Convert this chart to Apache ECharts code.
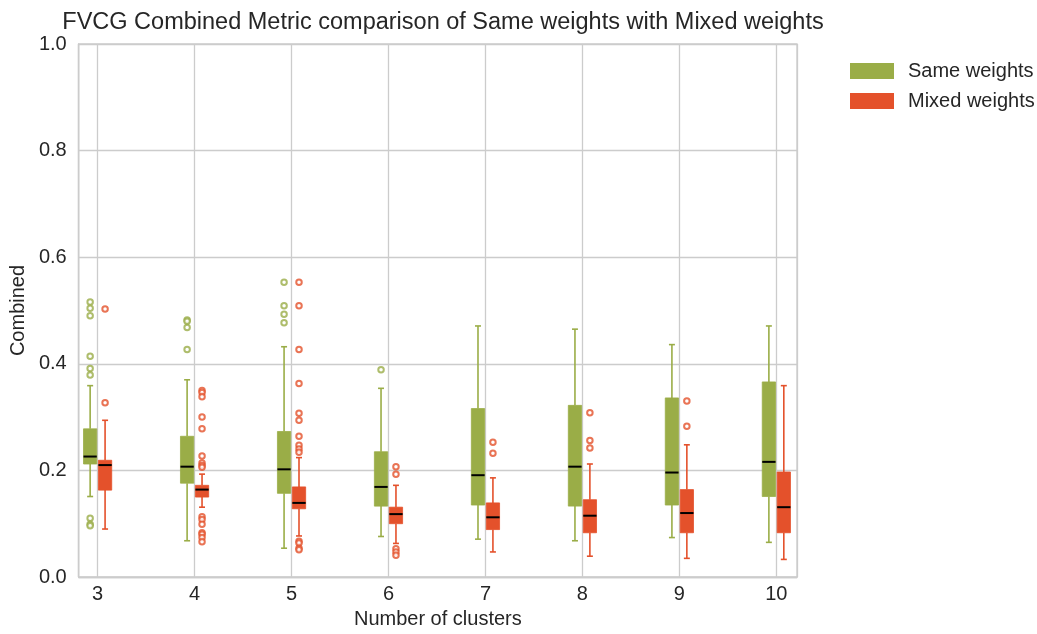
<!DOCTYPE html>
<html>
<head>
<meta charset="utf-8">
<script src="https://cdn.jsdelivr.net/npm/echarts@6/dist/echarts.min.js"></script>
<style>html,body{margin:0;padding:0;background:#fff}#c{width:1037px;height:634px}</style>
</head>
<body>
<div id="c"></div>
<script>
// ---- data ----
var categories = [3, 4, 5, 6, 7, 8, 9, 10];
var seriesNames = ['Same weights', 'Mixed weights'];
// [lower whisker, Q1, median, Q3, upper whisker]
var sameStats = [
  [0.151, 0.212, 0.226, 0.278, 0.359],
  [0.068, 0.176, 0.207, 0.264, 0.370],
  [0.054, 0.157, 0.202, 0.273, 0.432],
  [0.076, 0.133, 0.169, 0.235, 0.354],
  [0.071, 0.135, 0.191, 0.316, 0.471],
  [0.068, 0.133, 0.207, 0.322, 0.465],
  [0.074, 0.135, 0.196, 0.336, 0.436],
  [0.065, 0.151, 0.216, 0.366, 0.471]
];
var mixedStats = [
  [0.090, 0.163, 0.210, 0.219, 0.294],
  [0.131, 0.150, 0.164, 0.172, 0.193],
  [0.077, 0.128, 0.139, 0.169, 0.224],
  [0.063, 0.100, 0.118, 0.131, 0.172],
  [0.047, 0.089, 0.112, 0.139, 0.186],
  [0.039, 0.083, 0.115, 0.145, 0.212],
  [0.035, 0.083, 0.120, 0.164, 0.248],
  [0.033, 0.083, 0.131, 0.197, 0.359]
];
var sameOutliers = [
  [0.516, 0.504, 0.490, 0.414, 0.391, 0.379, 0.110, 0.099, 0.096],
  [0.482, 0.480, 0.468, 0.427],
  [0.553, 0.509, 0.493, 0.477],
  [0.389],
  [],
  [],
  [],
  []
];
var mixedOutliers = [
  [0.503, 0.327],
  [0.350, 0.346, 0.338, 0.300, 0.278, 0.227, 0.214, 0.209, 0.206, 0.113, 0.108, 0.099, 0.083, 0.080, 0.074, 0.066],
  [0.553, 0.509, 0.427, 0.363, 0.307, 0.294, 0.264, 0.247, 0.240, 0.234, 0.067, 0.064, 0.054, 0.051],
  [0.207, 0.193, 0.053, 0.047, 0.041],
  [0.253, 0.232],
  [0.308, 0.256, 0.242],
  [0.330, 0.283],
  []
];
var yTicks = [0, 0.2, 0.4, 0.6, 0.8, 1.0];

// ---- styling / layout ----
var colors = ['#9aad47', '#e4512b'];
var offsets = [-0.077, 0.077];
var boxW = 0.137;
var textColor = '#262626';
var fontFamily = 'Liberation Sans, Arial, sans-serif';

function boxData(stats, off) {
  return stats.map(function (s, i) { return [categories[i] + off].concat(s); });
}
function outlierData(outs, off) {
  var d = [];
  outs.forEach(function (arr, i) { arr.forEach(function (v) { d.push([categories[i] + off, v]); }); });
  return d;
}

function makeRender(color) {
  return function (params, api) {
    var x = api.value(0);
    var pMin = api.coord([x, api.value(1)]);
    var pQ1 = api.coord([x, api.value(2)]);
    var pMed = api.coord([x, api.value(3)]);
    var pQ3 = api.coord([x, api.value(4)]);
    var pMax = api.coord([x, api.value(5)]);
    var w = api.size([boxW, 0])[0];
    var cap = w * 0.45;
    var cx = pMed[0];
    var ls = { stroke: color, lineWidth: 1.6 };
    return {
      type: 'group',
      children: [
        { type: 'line', shape: { x1: cx, y1: pMin[1], x2: cx, y2: pQ1[1] }, style: ls },
        { type: 'line', shape: { x1: cx, y1: pQ3[1], x2: cx, y2: pMax[1] }, style: ls },
        { type: 'line', shape: { x1: cx - cap / 2, y1: pMin[1], x2: cx + cap / 2, y2: pMin[1] }, style: ls },
        { type: 'line', shape: { x1: cx - cap / 2, y1: pMax[1], x2: cx + cap / 2, y2: pMax[1] }, style: ls },
        { type: 'rect', shape: { x: cx - w / 2, y: pQ3[1], width: w, height: pQ1[1] - pQ3[1] }, style: { fill: color, stroke: color, lineWidth: 0.8 } },
        { type: 'line', shape: { x1: cx - w / 2, y1: pMed[1], x2: cx + w / 2, y2: pMed[1] }, style: { stroke: '#000', lineWidth: 2 } }
      ]
    };
  };
}

var series = [];
[sameStats, mixedStats].forEach(function (st, k) {
  series.push({
    name: seriesNames[k], type: 'custom', renderItem: makeRender(colors[k]),
    itemStyle: { color: colors[k] },
    encode: { x: 0, y: [1, 2, 3, 4, 5] },
    data: boxData(st, offsets[k]), z: 3
  });
});
[sameOutliers, mixedOutliers].forEach(function (o, k) {
  series.push({
    name: seriesNames[k], type: 'scatter', symbol: 'emptyCircle', symbolSize: 5.5,
    itemStyle: { color: colors[k], borderColor: colors[k], borderWidth: 1.6 },
    data: outlierData(o, offsets[k]), z: 4
  });
});

var chart = echarts.init(document.getElementById('c'), null, { renderer: 'canvas' });
chart.setOption({
  animation: false,
  backgroundColor: '#fff',
  textStyle: { fontFamily: fontFamily },
  title: {
    text: 'FVCG Combined Metric comparison of Same weights with Mixed weights',
    left: 438, textAlign: 'center', top: 6,
    textStyle: { fontSize: 23.5, fontWeight: 'normal', color: textColor, fontFamily: fontFamily }
  },
  legend: {
    data: seriesNames.map(function (n, k) { return { name: n, icon: 'rect', itemStyle: { color: colors[k] } }; }),
    orient: 'vertical', left: 845, top: 56, itemWidth: 44, itemHeight: 16, itemGap: 10,
    textStyle: { fontSize: 20, color: textColor, fontFamily: fontFamily, padding: [0, 0, 0, 9] }
  },
  grid: { left: 76, right: 240, top: 44, bottom: 52, show: true, borderColor: '#cccccc', borderWidth: 1.3, backgroundColor: 'transparent' },
  xAxis: {
    type: 'value', min: 2.805, max: 10.213, splitNumber: 8,
    name: 'Number of clusters', nameLocation: 'middle', nameGap: 32,
    nameTextStyle: { fontSize: 20, color: textColor, fontFamily: fontFamily },
    axisLine: { show: true, lineStyle: { color: '#cccccc', width: 1.3 } },
    axisTick: { show: false },
    axisLabel: {
      fontSize: 20, color: textColor, margin: 7, fontFamily: fontFamily,
      formatter: function (v) { return categories.indexOf(Math.round(v * 1000) / 1000) >= 0 ? String(Math.round(v)) : ''; }
    },
    splitLine: { show: true, lineStyle: { color: '#cccccc', width: 1.3 } }
  },
  yAxis: {
    type: 'value', min: yTicks[0], max: yTicks[yTicks.length - 1], interval: 0.2,
    name: 'Combined', nameLocation: 'middle', nameGap: 46,
    nameTextStyle: { fontSize: 20, color: textColor, fontFamily: fontFamily },
    axisLine: { show: true, lineStyle: { color: '#cccccc', width: 1.3 } },
    axisTick: { show: false },
    axisLabel: { fontSize: 20, color: textColor, margin: 12, fontFamily: fontFamily, formatter: function (v) { return v.toFixed(1); } },
    splitLine: { show: true, lineStyle: { color: '#cccccc', width: 1.3 } }
  },
  series: series
});
</script>
</body>
</html>
